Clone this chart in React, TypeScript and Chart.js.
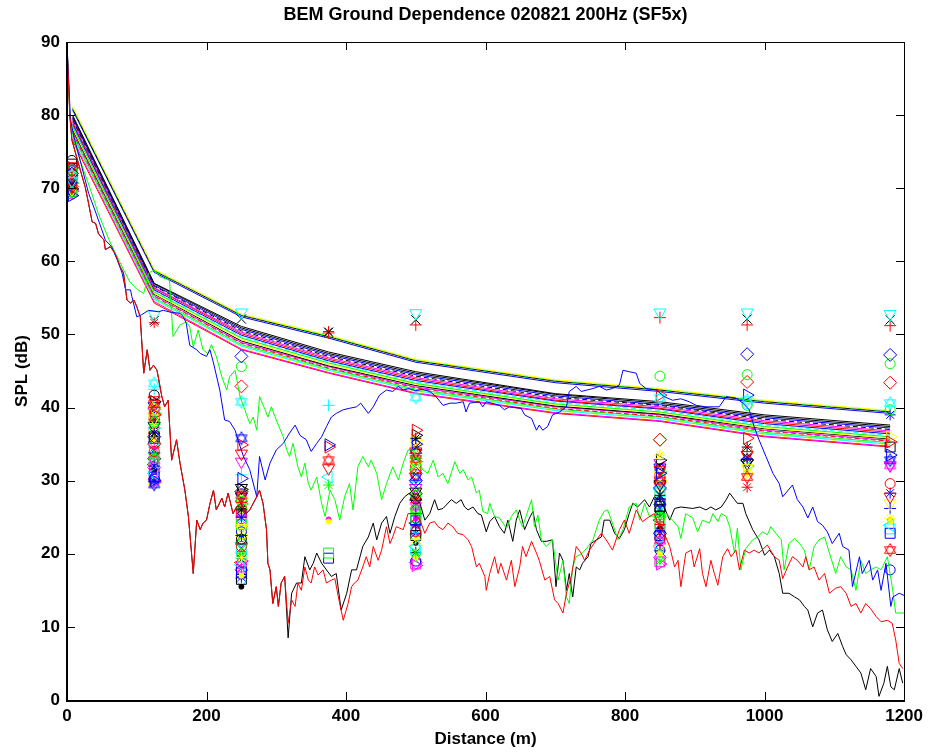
import React, { useEffect, useRef } from 'react';
import { Chart, registerables } from 'chart.js';

Chart.register(...registerables);

const TITLE = 'BEM Ground Dependence 020821 200Hz (SF5x)';
const X_LABEL = 'Distance (m)';
const Y_LABEL = 'SPL (dB)';

// ---------- measured (noisy) lines ----------
const BLUE_D = [0, 5, 10, 21, 31, 40, 50, 55, 64, 72, 79, 84, 91, 93, 100, 107, 117, 131, 138, 150, 162, 167, 171, 176, 186, 191, 200, 205, 210, 219, 226, 233, 241, 245, 253, 262, 272, 276, 284, 291, 300, 310, 319, 327, 334, 343, 350, 358, 365, 372, 379, 386, 396, 405, 415, 421, 432, 439, 448, 458, 467, 475, 482, 490, 500, 510, 520, 529, 539, 549, 558, 568, 572, 577, 591, 596, 601, 620, 627, 634, 651, 656, 666, 673, 677, 682, 689, 696, 706, 716, 720, 730, 737, 754, 763, 773, 782, 792, 797, 806, 816, 821, 830, 845, 856, 868, 880, 892, 902, 916, 935, 945, 959, 969, 978, 985, 992, 1002, 1012, 1021, 1026, 1040, 1047, 1055, 1062, 1069, 1076, 1083, 1090, 1097, 1107, 1112, 1121, 1126, 1136, 1140, 1150, 1155, 1162, 1167, 1174, 1181, 1184, 1193, 1200];
const BLUE_V = [89.8, 79.3, 77, 73, 69.3, 67, 64.3, 62.9, 62, 60.2, 58.4, 56.1, 56.1, 55.2, 52.4, 52.7, 53.3, 53.1, 53.3, 53.0, 52.9, 52.4, 51.5, 48.5, 47.9, 47.4, 47, 47.9, 46.1, 42.4, 38.3, 38.1, 36.9, 35.6, 33.3, 31.5, 27.8, 33.3, 30.1, 32.4, 34.2, 35.1, 36.5, 37.6, 36.2, 35.6, 34, 35.1, 36, 37.4, 38.7, 39.2, 39.7, 39.9, 40.1, 40.6, 39.2, 40.1, 41.7, 42.4, 42.2, 42.9, 42.4, 42.6, 42.3, 42.5, 42.2, 41.5, 40.3, 40.6, 40.6, 40.8, 39.4, 40.6, 40.8, 40.1, 40.8, 40.3, 39.7, 40.1, 39.9, 39, 38.5, 36.9, 37.6, 36.9, 37.4, 39, 39.4, 40.1, 42.2, 42.9, 42.2, 42.6, 42.9, 42.4, 42.6, 43.1, 45.1, 44.9, 44.7, 43.3, 42.6, 42.4, 41.5, 41, 41.2, 40.8, 40.3, 40.1, 40.1, 41.5, 41.3, 40.6, 39.7, 37.4, 35.6, 33.3, 31, 29.6, 27.8, 29.4, 27.4, 26.4, 24.9, 26.4, 24.4, 23.9, 23, 21.4, 22.8, 21, 20.5, 15.5, 19.6, 17.3, 19.1, 16.4, 17.8, 15, 18.7, 12.8, 14.1, 14.6, 14.3];

const GREEN_D = [0, 4, 10, 20, 33, 45, 60, 75, 90, 100, 110, 117, 125, 133, 147, 152, 162, 171, 176, 181, 188, 195, 202, 207, 214, 222, 229, 233, 241, 248, 255, 262, 267, 272, 276, 284, 288, 293, 300, 310, 315, 319, 324, 331, 336, 341, 346, 350, 358, 365, 370, 377, 384, 391, 398, 405, 410, 417, 424, 432, 436, 444, 451, 458, 467, 475, 482, 489, 496, 510, 517, 525, 532, 539, 546, 556, 563, 568, 575, 580, 587, 591, 596, 603, 606, 613, 620, 630, 637, 644, 649, 653, 658, 666, 670, 675, 680, 687, 696, 704, 711, 716, 720, 725, 730, 739, 747, 754, 763, 770, 775, 782, 790, 797, 806, 816, 821, 828, 835, 849, 859, 868, 876, 880, 887, 897, 904, 911, 921, 926, 933, 938, 945, 950, 957, 961, 966, 973, 983, 990, 997, 1004, 1009, 1016, 1024, 1028, 1035, 1043, 1050, 1057, 1064, 1071, 1078, 1086, 1093, 1102, 1109, 1117, 1124, 1131, 1138, 1145, 1152, 1160, 1167, 1176, 1183, 1188, 1200];
const GREEN_V = [89.7, 80.5, 76.5, 73.5, 70, 66.5, 63, 60, 57.2, 56.2, 55.6, 58.4, 58.8, 57.9, 57.4, 49.7, 51.3, 51.7, 51, 48.3, 50.6, 47.9, 47.4, 48.6, 47, 44.2, 42.4, 44.2, 45.1, 41.5, 39.7, 37.8, 38.7, 36.9, 41.5, 39.7, 38.7, 40.1, 38.3, 36, 34.2, 33.3, 35.1, 31.9, 30.5, 32.4, 29.6, 28.7, 30.5, 26.9, 25.1, 28.7, 27.4, 24.6, 27.8, 29.6, 26, 31.9, 33.3, 31.9, 32.8, 31, 27.4, 29.6, 31.9, 30.1, 32.4, 34.2, 34.2, 31.5, 31, 32.8, 30.5, 31, 29.6, 32.6, 31, 31.5, 30.1, 30.5, 28.3, 28.7, 25.8, 25.5, 26.9, 25.1, 24.9, 23.5, 25.1, 26, 24.6, 23.7, 25.1, 27.4, 23.7, 25.3, 21.9, 21, 21.9, 16.4, 19.1, 14.1, 13.2, 18.2, 19.6, 20.1, 21, 21.9, 24.6, 25.8, 26, 24.2, 21.9, 23.3, 26.4, 26.9, 24.6, 26.9, 25.1, 25.3, 25.5, 24.6, 23.7, 22.1, 25.5, 24.9, 23, 24.6, 24.2, 25.5, 24.4, 25.5, 25.1, 23.7, 20.1, 23.5, 17.8, 20.7, 21.9, 22.3, 23, 22.6, 23.7, 22.8, 21.9, 17.8, 21.4, 22.1, 21.4, 20.5, 17.8, 21, 21.9, 22.3, 20.1, 17.3, 19.6, 18.2, 17.8, 15, 19.1, 17.3, 17.8, 18.2, 17.8, 19.6, 15.5, 11.9, 11.9];

const RED_D = [0, 4, 7, 19, 26, 31, 36, 41, 45, 53, 55, 62, 69, 76, 81, 86, 91, 96, 100, 105, 110, 115, 119, 124, 129, 136, 140, 145, 150, 157, 162, 169, 174, 181, 186, 191, 195, 200, 205, 210, 214, 222, 226, 231, 238, 243, 250, 257, 262, 272, 276, 281, 286, 288, 291, 295, 300, 303, 307, 312, 317, 322, 327, 331, 336, 341, 346, 350, 355, 360, 367, 372, 379, 384, 389, 396, 403, 408, 412, 417, 424, 429, 434, 439, 446, 451, 458, 463, 467, 472, 482, 489, 498, 506, 513, 520, 527, 532, 539, 546, 553, 560, 568, 575, 580, 587, 591, 599, 601, 606, 613, 618, 622, 630, 637, 642, 649, 653, 658, 666, 673, 677, 685, 692, 699, 704, 711, 716, 723, 730, 737, 742, 749, 759, 766, 773, 782, 792, 799, 806, 816, 825, 835, 842, 849, 856, 864, 871, 876, 880, 887, 895, 899, 907, 911, 916, 923, 928, 933, 940, 947, 952, 959, 964, 971, 978, 985, 992, 1004, 1014, 1021, 1026, 1033, 1040, 1047, 1055, 1059, 1064, 1071, 1078, 1086, 1093, 1102, 1109, 1117, 1124, 1131, 1138, 1145, 1152, 1160, 1167, 1176, 1183, 1188, 1193, 1198];
const RED_V = [89.6, 80, 76.6, 72.5, 70.2, 67.9, 65.4, 65.2, 63.8, 62.9, 61.6, 62, 61.1, 59.3, 58.4, 54.7, 54.3, 54.7, 53.8, 52.4, 44.7, 47.9, 45.1, 45.8, 45.1, 41.5, 40.1, 41, 32.8, 35.6, 32.4, 28.7, 25.1, 17.3, 24.6, 23.3, 24.2, 24.6, 26.9, 28.7, 26, 27.6, 26.4, 28.3, 25.5, 26.4, 26.9, 25.5, 26, 27.8, 28.7, 26.9, 23.3, 18.7, 17.8, 13.2, 15.5, 12.8, 16, 16.9, 10.5, 13.7, 12.8, 16, 15, 18.2, 16.4, 16, 18.2, 17.1, 17.8, 16, 16.4, 16.6, 14.1, 10.9, 13.2, 15.5, 16, 16.4, 18.2, 19.6, 18.2, 21, 19.1, 20.5, 23.7, 21.4, 22.3, 23.7, 23.3, 25.5, 25.5, 24.6, 22.8, 24.2, 24.4, 23.7, 23.3, 24.2, 23.7, 22.8, 22.6, 21.9, 21, 18.2, 18.7, 16.9, 15, 17.3, 19.6, 17.3, 18.7, 16.4, 19.1, 15.5, 18.2, 21, 19.6, 21.7, 20.1, 19.1, 16.4, 16.9, 13.7, 13.2, 11.9, 14.6, 16.9, 21, 20.1, 19.1, 20.5, 21.9, 22.8, 21.9, 20.5, 23.3, 24.6, 22.8, 26, 24.4, 25.1, 25.5, 23.7, 22.8, 21, 18.2, 19.1, 15.5, 20.1, 20.5, 18.2, 20.7, 17.3, 15.5, 19.1, 17.3, 15.7, 19.6, 20.7, 19.6, 20.5, 17.8, 20.5, 20.1, 20.5, 20.1, 21.2, 19.6, 19.1, 16.6, 18.2, 19.6, 19.1, 18.2, 19.6, 17.8, 18.2, 16.4, 17.3, 14.6, 15.3, 15.5, 14.6, 12.8, 13.2, 11.9, 13.2, 12.5, 11.4, 10.7, 10.9, 10.5, 8.2, 5, 4.3];

const BLACK_D = [0, 4, 7, 19, 26, 31, 36, 41, 45, 53, 55, 62, 69, 76, 81, 86, 91, 96, 100, 105, 110, 115, 119, 124, 129, 136, 140, 145, 150, 157, 162, 169, 174, 181, 186, 191, 195, 200, 205, 210, 214, 222, 226, 231, 238, 243, 250, 257, 262, 272, 276, 281, 286, 288, 291, 295, 300, 303, 307, 312, 317, 322, 329, 336, 341, 348, 353, 358, 365, 372, 379, 386, 393, 401, 408, 415, 424, 432, 439, 444, 451, 458, 463, 470, 477, 484, 491, 496, 506, 513, 520, 527, 532, 539, 551, 558, 565, 570, 575, 582, 589, 594, 601, 606, 613, 620, 627, 632, 639, 644, 649, 656, 663, 668, 673, 680, 687, 696, 701, 706, 711, 716, 720, 725, 730, 735, 739, 747, 751, 759, 766, 770, 778, 785, 792, 799, 806, 811, 818, 828, 835, 842, 849, 856, 864, 871, 880, 897, 907, 916, 923, 930, 938, 945, 950, 957, 961, 969, 973, 983, 992, 1000, 1007, 1014, 1021, 1026, 1035, 1043, 1050, 1057, 1062, 1069, 1076, 1083, 1090, 1097, 1105, 1112, 1117, 1124, 1131, 1138, 1145, 1152, 1160, 1164, 1171, 1176, 1181, 1186, 1193, 1198];
const BLACK_V = [89.6, 80, 76.6, 72.5, 70.2, 67.9, 65.4, 65.2, 63.8, 62.9, 61.6, 62, 61.1, 59.3, 58.4, 54.7, 54.3, 54.7, 53.8, 52.4, 44.7, 47.9, 45.1, 45.8, 45.1, 41.5, 40.1, 41, 32.8, 35.6, 32.4, 28.7, 25.1, 17.3, 24.6, 23.3, 24.2, 24.6, 26.9, 28.7, 26, 27.6, 26.4, 28.3, 25.5, 26.4, 26.9, 25.5, 26, 27.8, 28.7, 26.9, 23.3, 18.7, 17.8, 13.2, 15.5, 12.8, 16, 16.9, 8.5, 14.6, 16, 16, 19.6, 17.8, 18.7, 20.1, 18.7, 17.8, 16.9, 17.3, 12.3, 14.6, 17.8, 17.8, 21, 22.3, 24.2, 21.9, 24.2, 25.1, 22.8, 25.1, 26.9, 27.8, 28.3, 27.8, 26.9, 24.6, 25.5, 27.4, 26, 26.2, 27.4, 26.9, 27.4, 26.4, 26, 26.4, 25.5, 25.3, 23, 24.4, 25.1, 23.7, 22.8, 24.6, 21.7, 24.6, 26, 23.3, 24.9, 25.8, 23.3, 21.7, 21.7, 21.9, 15.5, 20.1, 19.1, 15, 17.3, 14.1, 18.2, 17.8, 18.7, 19.6, 21.4, 21.9, 22.3, 24.6, 24.6, 22.8, 22.1, 23.3, 25.5, 26.9, 26.4, 27.4, 26.4, 27.8, 27.4, 26.4, 24.6, 26.2, 26.4, 26.2, 26.4, 26, 26.4, 26, 26.4, 27.4, 28.3, 27.4, 26.9, 26.9, 25.5, 23.3, 21.9, 19.8, 20.5, 19.6, 17.3, 14.6, 14.6, 14.1, 13.7, 12.8, 12.3, 10, 11.9, 12.3, 9.6, 8, 9.1, 7.3, 6.2, 5.5, 4.6, 3.7, 1.4, 4.3, 3.2, 0.5, 2.3, 4.6, 1.8, 1.4, 4.3, 2.3];

// ---------- BEM prediction bundle ----------
const BUNDLE_D = [8, 125, 250, 375, 500, 700, 850, 1000, 1180];
const BUNDLE_V = [
  [81.2, 58.9, 52.8, 49.9, 46.6, 43.8, 42.6, 41.0, 39.6],
  [81.0, 58.8, 52.7, 49.8, 46.5, 43.7, 42.5, 40.9, 39.5],
  [80.9, 58.7, 52.6, 49.7, 46.4, 43.6, 42.4, 40.8, 39.4],
  [80.7, 58.5, 52.4, 49.5, 46.2, 43.4, 42.2, 40.6, 39.2],
  [80.0, 57.0, 51.1, 47.6, 44.9, 41.9, 40.8, 39.0, 37.6],
  [79.8, 56.9, 50.9, 47.4, 44.7, 41.8, 40.6, 38.8, 37.4],
  [79.6, 56.7, 50.7, 47.2, 44.5, 41.6, 40.4, 38.6, 37.2],
  [79.4, 56.6, 50.5, 47.0, 44.3, 41.4, 40.3, 38.4, 37.0],
  [79.2, 56.4, 50.3, 46.8, 44.1, 41.2, 40.1, 38.2, 36.8],
  [79.0, 56.3, 50.1, 46.6, 43.9, 41.0, 39.9, 38.0, 36.6],
  [78.8, 56.1, 49.9, 46.4, 43.7, 40.9, 39.8, 37.8, 36.4],
  [78.6, 56.0, 49.7, 46.3, 43.5, 40.7, 39.6, 37.6, 36.2],
  [78.4, 55.8, 49.5, 46.1, 43.3, 40.5, 39.4, 37.4, 36.0],
  [78.2, 55.6, 49.3, 45.9, 43.2, 40.4, 39.3, 37.2, 35.8],
  [78.0, 55.5, 49.1, 45.7, 43.0, 40.2, 39.1, 37.1, 35.7],
  [77.8, 55.3, 48.9, 45.6, 42.8, 40.1, 39.0, 36.9, 35.5],
  [77.6, 55.2, 48.8, 45.4, 42.7, 39.9, 38.8, 36.8, 35.4],
  [77.4, 55.0, 48.6, 45.3, 42.5, 39.8, 38.7, 36.6, 35.2],
  [77.2, 54.8, 48.4, 45.1, 42.3, 39.6, 38.5, 36.4, 35.0],
  [77.0, 54.7, 48.2, 45.0, 42.2, 39.5, 38.4, 36.3, 34.9],
  [76.8, 54.5, 48.0, 44.8, 42.0, 39.3, 38.2, 36.1, 34.7],
  [76.5, 54.3, 47.9, 44.7, 41.9, 39.2, 38.1, 36.0, 34.6],
];

// ---------- scattered markers (measured points per run) ----------
const MARKER_D = [7, 125, 250, 375, 500, 850, 975, 1180];
const MARKER_V: (number | null)[][] = [
  [71.0, 52.7, 53.0, null, 52.9, 53.0, 53.0, 52.8],
  [70.5, 51.9, 52.1, 50.3, 52.0, null, 52.1, 52.0],
  [70.0, null, null, 50.2, 51.3, 52.3, 51.3, 51.2],
  [71.5, 51.6, 27.0, 50.4, 27.5, 24.0, 29.1, null],
  [72.0, 36.0, 47.0, null, 30.0, 29.0, 47.3, 47.2],
  [72.5, 38.0, 45.6, null, 28.0, 44.3, 44.5, 46.0],
  [70.2, 35.0, 42.9, null, 31.0, 35.6, 43.5, 43.4],
  [71.8, 43.3, 40.8, null, 41.4, 41.3, 41.0, 40.6],
  [69.5, 33.0, 27.2, null, 26.0, 25.0, 40.3, 39.7],
  [70.8, 32.0, 25.0, null, 24.0, 23.0, 33.0, 39.0],
  [69.0, 30.0, 30.3, 34.9, 35.0, 31.0, 41.7, 33.5],
  [72.8, 39.0, 34.9, 34.6, 36.9, 41.7, 35.8, 35.3],
  [73.0, 41.0, 33.7, 31.7, 34.0, 31.5, 33.5, 27.8],
  [73.8, 41.7, 22.0, null, 27.5, 26.0, null, null],
  [70.4, 40.5, 28.0, 32.8, 33.0, 30.0, 30.5, 20.5],
  [71.2, 34.0, 21.0, null, 23.0, 22.0, 34.0, 29.6],
  [70.6, 36.5, 26.0, null, 35.8, 28.0, 34.6, null],
  [69.8, 38.5, 23.5, null, 32.0, 30.8, 31.7, 26.9],
  [72.2, 37.0, 19.5, null, 22.0, 33.5, 31.0, 24.8],
  [71.4, 31.0, 18.5, 30.5, 21.0, 21.0, null, 23.9],
  [69.3, 33.5, 20.0, 29.4, 20.0, 19.0, null, null],
  [70.0, 35.5, 17.0, 24.4, 19.5, 20.0, null, 24.4],
  [71.6, 32.5, 24.0, 20.1, 25.0, 24.0, null, null],
  [72.4, 30.5, 17.5, 19.4, 24.5, 22.5, null, 22.8],
  [69.6, 29.8, 19.0, null, 18.4, 18.6, null, null],
  [70.9, 39.5, 32.6, null, 29.0, 32.4, null, 32.1],
  [72.6, 29.5, 35.8, null, 30.5, 27.0, null, 32.8],
  [73.3, 36.0, 16.5, null, 22.5, 26.5, null, 34.6],
  [69.1, 31.5, 15.5, null, 21.5, 23.5, null, null],
  [71.3, 37.5, 29.0, null, 28.5, 29.5, 32.4, null],
  [70.3, 30.2, 23.0, null, 19.0, 20.5, null, 17.8],
  [72.1, 34.5, 18.0, null, 27.0, 21.5, null, null],
  [69.4, 38.2, 26.5, null, 33.5, 25.5, null, null],
  [null, 33.8, 22.5, null, 25.5, 27.5, null, 26.2],
  [null, 35.2, 20.5, null, 20.5, 28.5, null, 23.4],
  [null, 40.0, 27.5, null, 35.5, 30.0, 31.0, 36.0],
  [null, 32.8, 25.5, null, 26.5, 21.8, null, 32.1],
  [null, 39.8, 21.5, null, 31.5, 35.6, null, null],
  [null, 34.8, 24.5, null, 23.5, 26.8, 40.5, null],
  [null, 31.8, 17.8, null, 18.8, 19.5, null, null],
  [null, 36.8, 19.8, 24.7, 24.8, 23.2, null, 24.6],
  [null, 29.9, 16.8, null, 22.8, 25.8, null, 28.3],
  [null, 42.5, 30.8, 40.3, 29.8, 29.0, null, null],
  [null, 35.8, 19.2, null, 34.6, 32.0, 33.2, null],
  [null, 33.0, 28.5, null, 28.2, 22.8, 32.8, null],
  [69.9, 40.8, 28.8, null, 36.2, 32.8, null, null],
  [72.9, 40.2, 27.8, null, 33.8, 31.8, null, null],
  [70.7, 39.2, 26.8, null, 32.6, 31.2, 32.0, null],
  [71.9, 38.8, 25.8, null, 31.8, 30.4, null, null],
  [69.2, 37.8, 24.8, null, 30.8, 29.6, null, null],
  [null, 37.2, 23.8, null, 29.4, 28.8, null, null],
  [null, 36.2, 22.8, null, 28.8, 27.8, null, null],
  [null, 35.6, 21.8, null, 27.8, 27.2, null, null],
  [null, 34.2, 20.8, null, 26.8, 26.2, null, null],
  [null, 33.4, 19.8, null, 25.8, 25.4, null, null],
  [null, 32.2, 18.8, null, 24.2, 24.6, null, null],
  [null, 31.2, 17.2, null, 23.2, 23.8, null, null],
  [null, 30.8, 16.2, null, 22.2, 22.2, null, null],
  [null, 29.6, 24.2, null, 21.2, 21.2, null, null],
  [null, 38.4, 26.2, null, 20.2, 20.4, null, null],
  [null, 37.6, 22.2, null, 19.2, 19.8, null, null],
  [null, 36.6, 18.2, null, 18.6, 18.9, null, null],
  [null, 31.6, 28.2, null, 32.2, 31.6, null, null],
  [null, 30.6, 27.6, null, 34.2, 30.2, null, null],
  [null, 39.6, 25.2, null, 35.2, 29.2, null, null],
];

// ---------- styles ----------
const COLORS: Record<string, string> = {
  b: '#0000ff', g: '#00ff00', r: '#ff0000', c: '#00ffff', m: '#ff00ff', y: '#ffff00', k: '#000000',
};
const BUNDLE_COLOR = ['y', 'g', 'k', 'b', 'k', 'k', 'b', 'k', 'm', 'r', 'b', 'c', 'g', 'y', 'k', 'm', 'r', 'g', 'c', 'y', 'm', 'r'];
const BUNDLE_DASH = [false, true, false, false, false, false, false, true, false, false, false, true, false, false, false, false, true, false, false, true, false, false];
const MARKER_COLOR = ['c', 'k', 'r', 'r', 'b', 'g', 'r', 'c', 'g', 'b', 'b', 'r', 'r', 'k', 'r', 'r', 'k', 'y', 'y', 'c', 'g', 'y', 'g', 'b', 'm', 'm', 'b', 'k', 'k', 'k', 'b', 'm', 'g', 'b', 'c', 'y', 'm', 'g', 'c', 'm', 'm', 'b', 'c', 'k', 'k',
  'k', 'b', 'g', 'r', 'm', 'c', 'y', 'k', 'b', 'g', 'r', 'm', 'c', 'y', 'k', 'g', 'm', 'b', 'r', 'y'];
const MARKER_SHAPE = ['v', 'x', '+', '*', 'd', 'o', 'd', 'h', 'o', '*', '>', '>', 'v', 'o', 'h', 'o', '*', 'v', '*', '<', '*', '.', 's', 's', '>', 'v', 'h', 's', '.', 'v', 'o', '*', '^', '+', 's', '>', 'h', 'd', 'o', 'd', '.', '*', '+', 'x', 'd',
  '>', 'v', '>', 's', 'o', 'd', 's', '^', 'x', 'h', '<', 'o', 'v', 'd', '*', 'x', 's', 'o', '^', 'h'];

const FONT = '"Liberation Sans", Arial, Helvetica, sans-serif';

function makeHexagram(color: string, r: number): HTMLCanvasElement {
  const size = Math.ceil(2 * r + 3);
  const cv = document.createElement('canvas');
  cv.width = size;
  cv.height = size;
  const ctx = cv.getContext('2d')!;
  const c = size / 2;
  ctx.strokeStyle = color;
  ctx.lineWidth = 1;
  for (const start of [-Math.PI / 2, Math.PI / 2]) {
    ctx.beginPath();
    for (let k = 0; k < 3; k++) {
      const a = start + (k * 2 * Math.PI) / 3;
      const px = c + r * Math.cos(a);
      const py = c + r * Math.sin(a);
      if (k === 0) ctx.moveTo(px, py);
      else ctx.lineTo(px, py);
    }
    ctx.closePath();
    ctx.stroke();
  }
  return cv;
}

function pts(ds: number[], vs: (number | null)[]) {
  const out: { x: number; y: number }[] = [];
  ds.forEach((d, i) => {
    const v = vs[i];
    if (v !== null && v !== undefined) out.push({ x: d, y: v });
  });
  return out;
}

function markerStyle(shape: string, color: string) {
  switch (shape) {
    case 'o': return { pointStyle: 'circle', radius: 5, rotation: 0, fill: false };
    case 'x': return { pointStyle: 'crossRot', radius: 6.5, rotation: 0, fill: false };
    case '+': return { pointStyle: 'cross', radius: 6, rotation: 0, fill: false };
    case '*': return { pointStyle: 'star', radius: 5.5, rotation: 0, fill: false };
    case 'd': return { pointStyle: 'rectRot', radius: 6.5, rotation: 0, fill: false };
    case 's': return { pointStyle: 'rect', radius: 7, rotation: 0, fill: false };
    case 'v': return { pointStyle: 'triangle', radius: 7, rotation: 180, fill: false };
    case '^': return { pointStyle: 'triangle', radius: 7, rotation: 0, fill: false };
    case '>': return { pointStyle: 'triangle', radius: 7, rotation: 90, fill: false };
    case '<': return { pointStyle: 'triangle', radius: 7, rotation: 270, fill: false };
    case 'h': return { pointStyle: makeHexagram(color, 6.5) as any, radius: 6, rotation: 0, fill: false };
    case '.': return { pointStyle: 'circle', radius: 2.5, rotation: 0, fill: true };
    default: return { pointStyle: 'circle', radius: 5, rotation: 0, fill: false };
  }
}

const framePlugin = {
  id: 'matlabFrame',
  afterDatasetsDraw(chart: any) {
    const { ctx, chartArea } = chart;
    const { left, right, top, bottom } = chartArea;
    const xs = chart.scales.x;
    const ys = chart.scales.y;
    ctx.save();
    ctx.strokeStyle = '#000';
    ctx.lineWidth = 1;
    ctx.beginPath();
    const tl = 8;
    xs.ticks.forEach((t: any) => {
      const px = Math.round(xs.getPixelForValue(t.value)) + 0.5;
      ctx.moveTo(px, bottom);
      ctx.lineTo(px, bottom - tl);
      ctx.moveTo(px, top);
      ctx.lineTo(px, top + tl);
    });
    ys.ticks.forEach((t: any) => {
      const py = Math.round(ys.getPixelForValue(t.value)) + 0.5;
      ctx.moveTo(left, py);
      ctx.lineTo(left + tl, py);
      ctx.moveTo(right, py);
      ctx.lineTo(right - tl, py);
    });
    ctx.stroke();
    ctx.lineWidth = 1;
    ctx.strokeRect(Math.round(left) + 0.5, Math.round(top) + 0.5, Math.round(right - left), Math.round(bottom - top));
    ctx.lineWidth = 2;
    ctx.beginPath();
    ctx.moveTo(Math.round(left), Math.round(top));
    ctx.lineTo(Math.round(left), Math.round(bottom) + 1);
    ctx.lineTo(Math.round(right) + 1, Math.round(bottom) + 1);
    ctx.stroke();
    ctx.restore();
  },
};

export default function App() {
  const ref = useRef<HTMLCanvasElement>(null);

  useEffect(() => {
    document.body.style.margin = '0';
    const canvas = ref.current;
    if (!canvas) return;

    const datasets: any[] = [];

    const lineDefs = [
      { d: RED_D, v: RED_V, c: COLORS.r, order: 0 },
      { d: BLUE_D, v: BLUE_V, c: COLORS.b, order: 1 },
      { d: GREEN_D, v: GREEN_V, c: COLORS.g, order: 1 },
      { d: BLACK_D, v: BLACK_V, c: COLORS.k, order: 2 },
    ];
    lineDefs.forEach((ld) => {
      datasets.push({
        data: pts(ld.d, ld.v),
        showLine: true,
        borderColor: ld.c,
        borderWidth: 1,
        pointRadius: 0,
        tension: 0,
        order: ld.order,
      });
    });

    MARKER_V.forEach((vals, i) => {
      const color = COLORS[MARKER_COLOR[i]];
      const st = markerStyle(MARKER_SHAPE[i], color);
      datasets.push({
        data: pts(MARKER_D, vals),
        showLine: false,
        pointStyle: st.pointStyle,
        pointRadius: st.radius,
        pointRotation: st.rotation,
        pointBorderColor: color,
        pointBackgroundColor: st.fill ? color : 'rgba(0,0,0,0)',
        pointBorderWidth: 1,
        borderColor: color,
        backgroundColor: 'rgba(0,0,0,0)',
        order: 3,
      });
    });

    BUNDLE_V.forEach((vals, i) => {
      datasets.push({
        data: pts(BUNDLE_D, vals),
        showLine: true,
        borderColor: COLORS[BUNDLE_COLOR[i]],
        borderWidth: 1,
        borderDash: BUNDLE_DASH[i] ? [5, 3] : [],
        pointRadius: 0,
        tension: 0,
        order: 4,
      });
    });

    const tickFont = { family: FONT, size: 17, weight: 'bold' as const };

    const chart = new Chart(canvas, {
      type: 'scatter',
      data: { datasets },
      options: {
        responsive: false,
        animation: false,
        events: [],
        layout: { padding: { left: 0, right: 24, top: 0, bottom: 0 } },
        plugins: {
          legend: { display: false },
          tooltip: { enabled: false },
          title: {
            display: true,
            text: TITLE,
            fullSize: false,
            color: '#000',
            font: { family: FONT, size: 18, weight: 'bold' },
            padding: { top: 4, bottom: 16.4 },
          },
        },
        scales: {
          x: {
            type: 'linear',
            min: 0,
            max: 1200,
            ticks: { stepSize: 200, color: '#000', font: tickFont, padding: 6, maxRotation: 0, callback: (v: any) => String(v) },
            grid: { display: false, drawTicks: false },
            border: { display: false },
            title: { display: true, text: X_LABEL, color: '#000', font: tickFont, padding: { top: 0, bottom: 4 } },
            afterFit: (s: any) => { s.height = 54; },
          },
          y: {
            type: 'linear',
            min: 0,
            max: 90,
            ticks: { stepSize: 10, color: '#000', font: tickFont, padding: 7, callback: (v: any) => String(v) },
            grid: { display: false, drawTicks: false },
            border: { display: false },
            title: { display: true, text: Y_LABEL, color: '#000', font: tickFont, padding: { top: 12, bottom: 0 } },
            afterFit: (s: any) => { s.width = 67; },
          },
        },
      },
      plugins: [framePlugin],
    });

    return () => chart.destroy();
  }, []);

  return (
    <div style={{ width: 929, height: 754 }}>
      <canvas ref={ref} width={929} height={754} style={{ display: 'block', width: 929, height: 754 }} />
    </div>
  );
}
